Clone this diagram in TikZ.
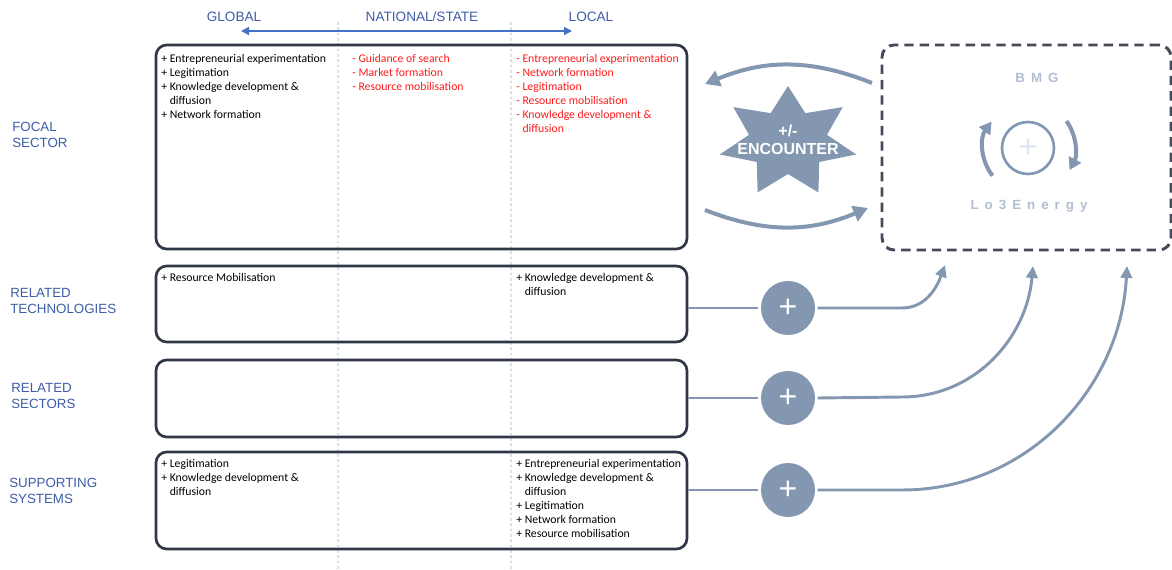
\documentclass[tikz,border=0pt]{standalone}
\usepackage{fontspec}
\setmainfont{Carlito}
\newfontfamily\arialfont{Liberation Sans}
\newfontfamily\spacedfont[LetterSpace=45]{Liberation Sans}
\usetikzlibrary{arrows.meta,fit,positioning}
\definecolor{slate}{HTML}{8497B0}
\definecolor{boxline}{HTML}{2F3645}
\definecolor{headblue}{HTML}{3D5DA7}
\definecolor{scaleblue}{HTML}{4472C4}
\definecolor{gridblue}{HTML}{D3E0F4}
\definecolor{negred}{HTML}{FF1A1A}
\definecolor{faint}{HTML}{B2BDD3}
\definecolor{faintplus}{HTML}{DCE6F5}
\tikzset{
	box/.style={draw=boxline, line width=2pt, rounded corners=8pt, inner sep=0pt},
	dashbox/.style={draw=boxline!90, line width=2.2pt, dash pattern=on 7pt off 4.5pt, rounded corners=9pt, inner sep=0pt},
	colhead/.style={font=\arialfont\fontsize{10.2}{12}\selectfont, text=headblue},
	rowlabel/.style={font=\arialfont\fontsize{10}{12}\selectfont, text=headblue, align=left, anchor=west, inner sep=0pt},
	item/.style={anchor=north west, align=left, inner sep=0pt, font=\fontsize{8.8}{10.5}\selectfont},
	neg/.style={item, text=negred},
	plusdot/.style={circle, fill=slate, minimum size=40.5pt, inner sep=0pt, outer sep=2pt, text=white, font=\arialfont\fontsize{24}{24}\selectfont},
	link/.style={draw=slate, line width=2.2pt},
	linkarrow/.style={link, -{Triangle[length=9pt,width=8.5pt]}},
	bigarrow/.style={draw=slate, line width=3pt, -{Triangle[length=11pt,width=12pt]}},
	looparrow/.style={draw=slate, line width=3pt, -{Triangle[length=9pt,width=10pt]}},
}
\begin{document}
\begin{tikzpicture}[x=0.75pt, y=-0.75pt, line join=round]
	\useasboundingbox (0,0) rectangle (1172,570);
	% scale of the columns
	\draw[gridblue, line width=2pt, dotted] (338,22) -- (338,570);
	\draw[gridblue, line width=2pt, dotted] (511,22) -- (511,570);
	\node[colhead] (global) at (234,17) {GLOBAL};
	\node[colhead] (national) at (422,17) {NATIONAL/STATE};
	\node[colhead] (local) at (591,17) {LOCAL};
	\coordinate (scaleL) at (241,31);
	\coordinate (scaleR) at (572,31);
	\draw[scaleblue, line width=1.1pt, {Triangle[length=6pt,width=6pt]}-{Triangle[length=6pt,width=6pt]}] (scaleL) -- (scaleR);
	% rows
	\node[box, fit={(156,45) (687,249)}] (focal) {};
	\node[box, fit={(156,266) (687,342)}] (reltech) {};
	\node[box, fit={(156,360) (687,437)}] (relsec) {};
	\node[box, fit={(156,452) (687,549)}] (supsys) {};
	\node[rowlabel] (focallbl) at (12,135) {FOCAL\\SECTOR};
	\node[rowlabel] (reltechlbl) at (10,301) {RELATED\\TECHNOLOGIES};
	\node[rowlabel] (relseclbl) at (11,396) {RELATED\\SECTORS};
	\node[rowlabel] (supsyslbl) at (9,491) {SUPPORTING\\SYSTEMS};
	% functions per row and column
	\node[item] (focalg) at (161,54) {+ Entrepreneurial experimentation\\+ Legitimation\\+ Knowledge development \&\\\phantom{+ }diffusion\\+ Network formation};
	\node[neg] (focaln) at (352,54) {- Guidance of search\\- Market formation\\- Resource mobilisation};
	\node[neg] (focall) at (516,54) {- Entrepreneurial experimentation\\- Network formation\\- Legitimation\\- Resource mobilisation\\- Knowledge development \&\\\phantom{- }diffusion};
	\node[item] (reltechg) at (161,273) {+ Resource Mobilisation};
	\node[item] (reltechl) at (516,273) {+ Knowledge development \&\\\phantom{+ }diffusion};
	\node[item] (supsysg) at (161,459) {+ Legitimation\\+ Knowledge development \&\\\phantom{+ }diffusion};
	\node[item] (supsysl) at (516,459) {+ Entrepreneurial experimentation\\+ Knowledge development \&\\\phantom{+ }diffusion\\+ Legitimation\\+ Network formation\\+ Resource mobilisation};
	% encounter
	\begin{scope}[shift={(788,142)}]
		\fill[slate] (0,-56)
		\foreach \k [evaluate=\k as \rx using {mod(\k,2)==1 ? 40 : 70}, evaluate=\k as \ry using {mod(\k,2)==1 ? 32 : 56}] in {1,...,13} {
			-- ({\rx*cos(-90+\k*180/7)},{\ry*sin(-90+\k*180/7)})
		} -- cycle;
	\end{scope}
	\node[font=\arialfont\bfseries\fontsize{12}{13.5}\selectfont, text=white, align=center] (encounter) at (788,140) {+/-\\ENCOUNTER};
	% BMG
	\node[dashbox, fit={(882,45) (1171,250)}] (bmg) {};
	\node[font=\spacedfont\bfseries\fontsize{10}{12}\selectfont, text=faint] (bmgname) at (1037,78) {BMG};
	\node[font=\spacedfont\bfseries\fontsize{10}{12}\selectfont, text=faint] (lo3) at (1029,206) {Lo3Energy};
	\node[circle, draw=slate, line width=2pt, minimum size=39pt, inner sep=0pt, text=faintplus, font=\arialfont\fontsize{24}{24}\selectfont] (core) at (1028,148) {+};
	\draw[looparrow] (core.center) ++(142:45) arc[start angle=142, end angle=216, radius=45];
	\draw[looparrow] (core.center) ++(-35:47) arc[start angle=-35, end angle=28, radius=47];
	\coordinate (bmgout) at (872,83);
	\coordinate (focalin) at (705,84);
	\coordinate (focalout) at (705,210);
	\coordinate (bmgin) at (868,208);
	\draw[bigarrow] (bmgout) to[bend right=22] (focalin);
	\draw[bigarrow] (focalout) to[bend right=22] (bmgin);
	% contributions of the other systems
	\node[plusdot] (p1) at (788,308) {+};
	\node[plusdot] (p2) at (788,398) {+};
	\node[plusdot] (p3) at (788,490) {+};
	\coordinate (tip1) at (945,265);
	\coordinate (tip2) at (1033,266);
	\coordinate (tip3) at (1127,266);
	\draw[link] (reltech.east |- p1) -- (p1);
	\draw[link] (relsec.east |- p2) -- (p2);
	\draw[link] (supsys.east |- p3) -- (p3);
	\draw[linkarrow] (p1.east) -- (902,308) to[out=0, in=-110] (tip1);
	\draw[linkarrow] (p2.east) -- (902,397) to[out=0, in=-95] (tip2);
	\draw[linkarrow] (p3.east) -- (902,490) to[out=0, in=-93] (tip3);
\end{tikzpicture}
\end{document}
